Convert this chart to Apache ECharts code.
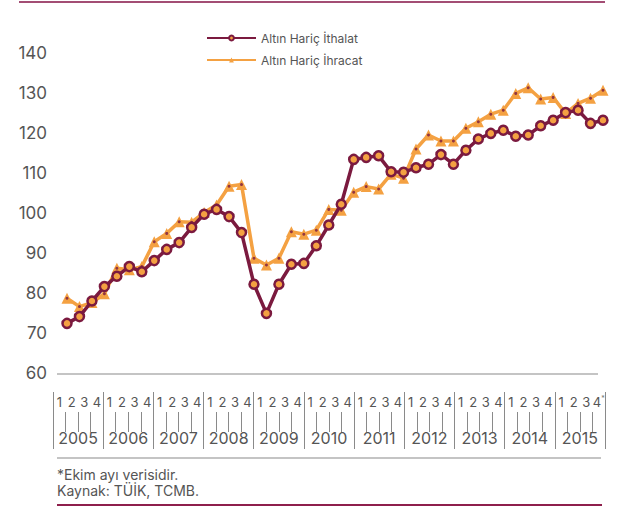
<!DOCTYPE html>
<html>
<head>
<meta charset="utf-8">
<script src="https://cdn.jsdelivr.net/npm/echarts/dist/echarts.min.js"></script>
<style>
  html, body { margin: 0; padding: 0; background: #fff; }
  #chart { width: 621px; height: 507px; }
</style>
</head>
<body>
<div id="chart"></div>
<script>
// veriler (çeyreklik, endeks)
var years = ['2005', '2006', '2007', '2008', '2009', '2010', '2011', '2012', '2013', '2014', '2015'];
var quarterNames = ['1', '2', '3', '4'];
var yTicks = [60, 70, 80, 90, 100, 110, 120, 130, 140];

var ithalat = [72.4, 74.1, 78.0, 81.6, 84.2, 86.6, 85.3, 88.1, 90.9, 92.6, 96.4, 99.7,
  100.9, 99.1, 95.1, 82.2, 74.9, 82.2, 87.2, 87.4, 91.8, 97.0, 102.2, 113.4,
  113.9, 114.3, 110.3, 110.2, 111.3, 112.2, 114.6, 112.2, 115.7, 118.5, 119.9, 120.7,
  119.2, 119.5, 121.8, 123.2, 125.1, 125.7, 122.4, 123.2];

var ihracat = [78.7, 76.6, 77.6, 79.8, 86.2, 85.8, 86.6, 92.8, 94.9, 97.8, 97.7, 100.1,
  102.0, 106.7, 107.1, 88.7, 87.0, 88.7, 95.3, 94.7, 95.7, 100.9, 100.7, 105.2,
  106.6, 106.0, 109.7, 108.7, 116.0, 119.5, 118.0, 118.0, 121.2, 122.8, 124.7, 125.7,
  129.9, 131.3, 128.5, 128.9, 124.9, 127.4, 128.7, 130.7];

// kategori listeleri
var periods = [];
var quarterLabels = [];
years.forEach(function (y) {
  quarterNames.forEach(function (q) {
    periods.push(y + '-' + q);
    quarterLabels.push(q);
  });
});

var FONT = 'Inter';
var MAROON = '#7b1a3f';
var ORANGE = '#f4a142';
var GRAY = '#8a8a8a';
var TEXT = '#555';

var chart = echarts.init(document.getElementById('chart'), null, { renderer: 'svg' });

chart.setOption({
  animation: false,
  textStyle: { fontFamily: FONT },
  legend: {
    data: ['Altın Hariç İthalat', 'Altın Hariç İhracat'],
    orient: 'vertical',
    left: 201,
    top: 27,
    itemWidth: 49,
    itemHeight: 6,
    itemGap: 10,
    textStyle: { fontSize: 12, color: TEXT, fontFamily: FONT }
  },
  grid: [
    { left: 67, right: 18, top: 53, bottom: 134 },   // veri alanı
    { left: 53, right: 16, top: 392, bottom: 95 },   // çeyrekler
    { left: 53, right: 16, top: 392, bottom: 58 }    // yıllar
  ],
  xAxis: [
    {
      gridIndex: 0, type: 'category', data: periods, boundaryGap: false,
      axisLine: { show: false }, axisTick: { show: false }, axisLabel: { show: false }
    },
    {
      gridIndex: 1, type: 'category', data: quarterLabels, position: 'top',
      axisLine: { show: false },
      axisTick: { show: true, inside: true, length: 20, interval: 0, lineStyle: { color: GRAY } },
      axisLabel: {
        inside: true, interval: 0, margin: 3, fontSize: 13, color: TEXT, fontFamily: FONT,
        formatter: function (v, i) { return i === periods.length - 1 ? v + '{s|*}' : v; },
        rich: { s: { fontSize: 7, color: '#777', fontFamily: FONT, verticalAlign: 'top', padding: [0, 0, 6, 0] } }
      }
    },
    {
      gridIndex: 2, type: 'category', data: years, position: 'bottom',
      axisLine: { show: false },
      axisTick: { show: true, inside: true, length: 57, interval: 0, lineStyle: { color: GRAY } },
      axisLabel: { inside: true, interval: 0, margin: 3, fontSize: 16, color: TEXT, fontFamily: FONT }
    }
  ],
  yAxis: [
    {
      gridIndex: 0, type: 'value', min: yTicks[0], max: yTicks[yTicks.length - 1], interval: 10,
      axisLine: { show: false }, axisTick: { show: false }, splitLine: { show: false },
      axisLabel: { margin: 20, fontSize: 17, color: TEXT, fontFamily: FONT }
    },
    { gridIndex: 1, type: 'value', show: false },
    { gridIndex: 2, type: 'value', show: false }
  ],
  graphic: [
    { type: 'line', shape: { x1: 19, y1: 2, x2: 605, y2: 2 }, style: { stroke: '#a34d74', lineWidth: 2 } },
    { type: 'line', shape: { x1: 57, y1: 374, x2: 598, y2: 374 }, style: { stroke: GRAY, lineWidth: 1.2 } },
    { type: 'line', shape: { x1: 57, y1: 458, x2: 601, y2: 458 }, style: { stroke: GRAY, lineWidth: 1.2 } },
    { type: 'line', shape: { x1: 57, y1: 505, x2: 602, y2: 505 }, style: { stroke: '#8e1f4c', lineWidth: 2 } },
    { type: 'text', left: 57, top: 467, style: { text: '*Ekim ayı verisidir.', font: '14px Inter', fill: TEXT } },
    { type: 'text', left: 57, top: 483, style: { text: 'Kaynak: TÜİK, TCMB.', font: '14px Inter', fill: TEXT } }
  ],
  series: [
    {
      name: 'Altın Hariç İhracat', type: 'line', data: ihracat,
      symbol: 'triangle', symbolSize: 11, showAllSymbol: true,
      lineStyle: { color: ORANGE, width: 3.5 },
      itemStyle: { color: ORANGE, borderColor: ORANGE, borderWidth: 0 },
      z: 2
    },
    {
      // üçgen içindeki küçük nokta
      name: 'dot', type: 'scatter', data: ihracat, symbol: 'circle', symbolSize: 3,
      itemStyle: { color: MAROON }, silent: true, z: 3
    },
    {
      name: 'Altın Hariç İthalat', type: 'line', data: ithalat,
      symbol: 'circle', symbolSize: 9, showAllSymbol: true,
      lineStyle: { color: MAROON, width: 3.5 },
      itemStyle: { color: ORANGE, borderColor: MAROON, borderWidth: 2.5 },
      z: 4
    }
  ]
});
</script>
</body>
</html>
